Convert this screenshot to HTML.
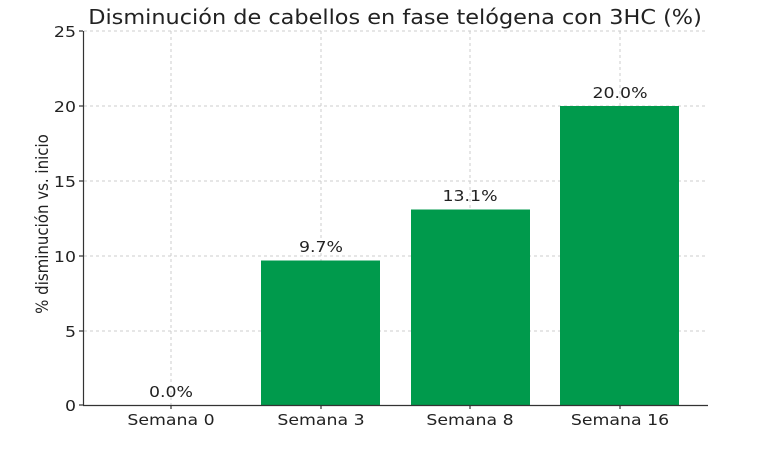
<!DOCTYPE html><html><head><style>body{margin:0;background:#fff}</style></head><body>
<svg width="768" height="447" xmlns="http://www.w3.org/2000/svg" font-family="DejaVu Sans, sans-serif" fill="#222">
<text transform="translate(395,24) scale(1.12,1)" font-size="20" text-anchor="middle">Disminución de cabellos en fase telógena con 3HC (%)</text>
<g stroke="#ccc" stroke-dasharray="3,3" stroke-width="1">
<line x1="84" x2="708" y1="331" y2="331"/><line x1="84" x2="708" y1="256" y2="256"/><line x1="84" x2="708" y1="181" y2="181"/><line x1="84" x2="708" y1="106" y2="106"/><line x1="84" x2="708" y1="31" y2="31"/>
<line x1="171" x2="171" y1="31" y2="405"/><line x1="321" x2="321" y1="31" y2="405"/><line x1="470" x2="470" y1="31" y2="405"/><line x1="620" x2="620" y1="31" y2="405"/>
</g>
<g fill="#009a4c">
<rect x="261" y="260.5" width="119" height="144.5"/>
<rect x="411" y="209.5" width="119" height="195.5"/>
<rect x="560" y="106" width="119" height="299"/>
</g>
<g stroke="#333" stroke-width="1.2"><line x1="83.5" y1="31" x2="83.5" y2="405.5"/><line x1="83" y1="405.5" x2="708" y2="405.5"/>
<line x1="79" x2="83" y1="405" y2="405"/><line x1="79" x2="83" y1="331" y2="331"/><line x1="79" x2="83" y1="256" y2="256"/><line x1="79" x2="83" y1="181" y2="181"/><line x1="79" x2="83" y1="106" y2="106"/><line x1="79" x2="83" y1="31" y2="31"/>
<line x1="171" x2="171" y1="405" y2="409"/><line x1="321" x2="321" y1="405" y2="409"/><line x1="470" x2="470" y1="405" y2="409"/><line x1="620" x2="620" y1="405" y2="409"/></g>
<g font-size="15.5" text-anchor="end"><text transform="translate(76,411) scale(1.12,1)">0</text><text transform="translate(76,337) scale(1.12,1)">5</text><text transform="translate(76,262) scale(1.12,1)">10</text><text transform="translate(76,187) scale(1.12,1)">15</text><text transform="translate(76,112) scale(1.12,1)">20</text><text transform="translate(76,37) scale(1.12,1)">25</text></g>
<g font-size="15.5" text-anchor="middle"><text transform="translate(171,425) scale(1.12,1)">Semana 0</text><text transform="translate(321,425) scale(1.12,1)">Semana 3</text><text transform="translate(470,425) scale(1.12,1)">Semana 8</text><text transform="translate(620,425) scale(1.12,1)">Semana 16</text>
<text transform="translate(171,397) scale(1.12,1)">0.0%</text><text transform="translate(321,252) scale(1.12,1)">9.7%</text><text transform="translate(470,201) scale(1.12,1)">13.1%</text><text transform="translate(620,98) scale(1.12,1)">20.0%</text></g>
<text transform="translate(48,224) rotate(-90) scale(1,1.12)" font-size="15" text-anchor="middle">% disminución vs. inicio</text>
</svg></body></html>
